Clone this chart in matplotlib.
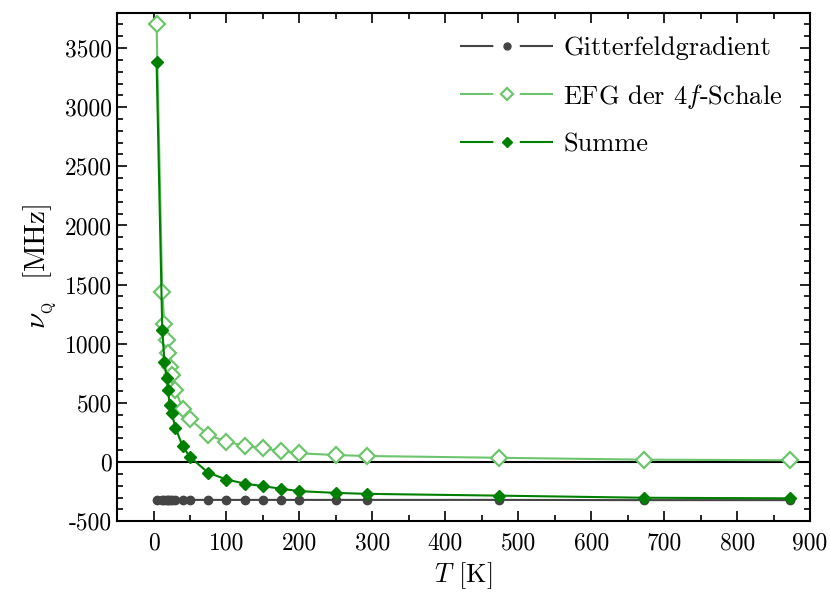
import matplotlib
matplotlib.use("Agg")
import matplotlib.pyplot as plt
from matplotlib.lines import Line2D
from matplotlib.ticker import MultipleLocator

plt.rcParams['font.family'] = 'serif'
plt.rcParams['font.serif'] = ['cmr10']
plt.rcParams['mathtext.fontset'] = 'cm'
plt.rcParams['axes.unicode_minus'] = False
plt.rcParams['axes.formatter.use_mathtext'] = False

# temperatures [K]
T = [4.2, 12, 15, 18, 20, 22, 25, 30, 40, 50, 75, 100, 125, 150, 175, 200,
     250, 293, 473, 673, 873]
# lattice field gradient [MHz]
gitter = [-320, -320, -320, -320, -320, -320, -320, -320, -320, -320, -320,
          -320, -320, -320, -320, -320, -320, -320, -320, -322, -322]
# EFG of the 4f shell [MHz]
efg = [3700, 1440, 1167, 1034, 926, 805, 737, 607, 452, 362, 229, 172, 138,
       116, 93, 74, 59, 51, 36, 20, 15]
# sum [MHz]
summe = [3383, 1120, 847, 714, 608, 485, 415, 290, 133, 42, -90, -148, -182,
         -204, -226, -246, -261, -269, -284, -302, -307]

labels = ['Gitterfeldgradient', r'EFG der $\mathit{4f}$-Schale', 'Summe']
c_git, c_efg, c_sum = '#444444', '#6cc56c', '#008000'

fig = plt.figure(figsize=(8.3, 5.97), dpi=100)
ax = fig.add_axes([0.141, 0.127, 0.835, 0.852])

ax.axhline(0, color='black', lw=1.5, zorder=1)
ax.plot(T, gitter, color=c_git, lw=1.5, marker='o', ms=6, zorder=2)
ax.plot(T, efg, color=c_efg, lw=1.5, marker='D', ms=8, mfc='white',
        mew=1.6, zorder=3)
ax.plot(T, summe, color=c_sum, lw=1.5, marker='D', ms=6, zorder=4)

ax.set_xlim(-50, 900)
ax.set_ylim(-500, 3800)
ax.xaxis.set_major_locator(MultipleLocator(100))
ax.xaxis.set_minor_locator(MultipleLocator(50))
ax.yaxis.set_major_locator(MultipleLocator(500))
ax.yaxis.set_minor_locator(MultipleLocator(100))
ax.tick_params(which='both', direction='in', top=True, right=True,
               labelsize=17, width=1.2)
ax.tick_params(which='major', length=7)
ax.tick_params(which='minor', length=4)
ax.tick_params(axis='x', pad=8)
for s in ax.spines.values():
    s.set_linewidth(1.5)

ax.set_xlabel(r'$T$ [K]', fontsize=19)
ax.set_ylabel(r'$\nu_{_\mathrm{Q}}$  [MHz]', fontsize=21)

# legend handles: line - marker - line
gap = (0, (16, 12.7))
handles = [
    Line2D([], [], color=c_git, lw=1.5, ls=gap, marker='o', ms=5),
    Line2D([], [], color=c_efg, lw=1.5, ls=gap, marker='D', ms=6,
           mfc='white', mew=1.6),
    Line2D([], [], color=c_sum, lw=1.5, ls=gap, marker='D', ms=5),
]
ax.legend(handles, labels, loc='upper right', bbox_to_anchor=(0.995, 1.0),
          frameon=False, fontsize=19, handlelength=3.5, handletextpad=0.4,
          labelspacing=0.82, numpoints=1)

fig.savefig('out.png', dpi=100)
